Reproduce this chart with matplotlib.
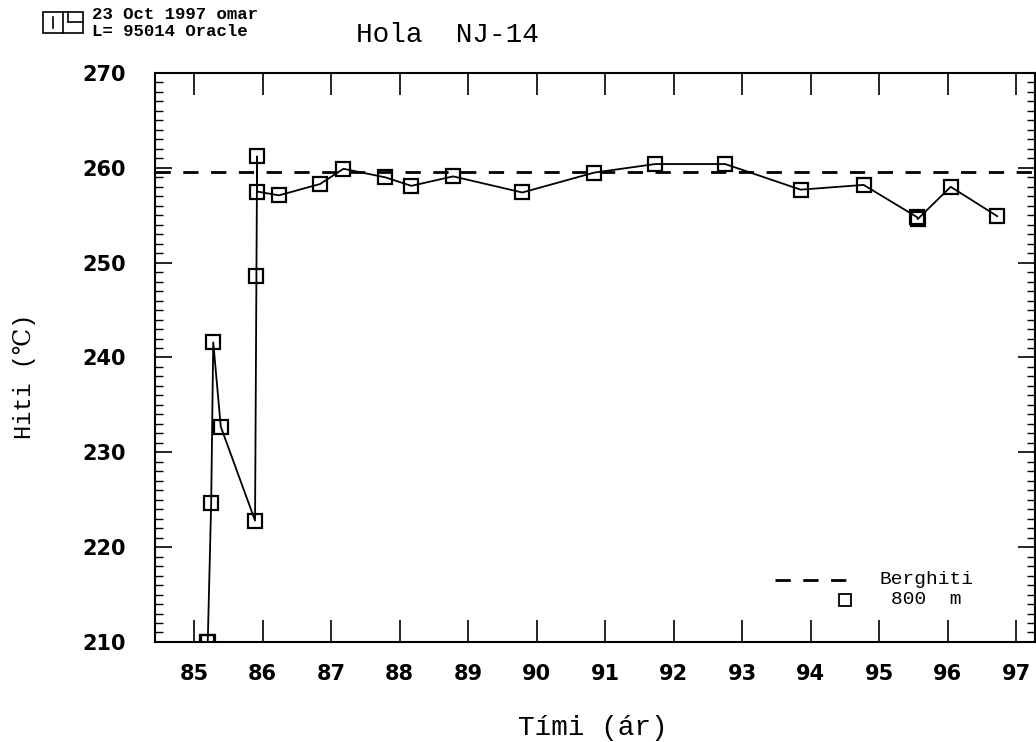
import matplotlib
matplotlib.use("Agg")
import matplotlib.pyplot as plt
from matplotlib.patches import Rectangle
from matplotlib.lines import Line2D

# data
years = [85.19, 85.20, 85.25, 85.28, 85.39, 85.89, 85.91, 85.92, 85.92,
         86.24, 86.84, 87.18, 87.79, 88.17, 88.78, 89.79, 90.84, 91.73,
         92.75, 93.85, 94.77, 95.55, 95.56, 96.04, 96.72]
temps = [210.0, 210.0, 224.7, 241.6, 232.7, 222.8, 248.6, 261.2, 257.5,
         257.1, 258.3, 259.9, 259.0, 258.1, 259.1, 257.4, 259.5, 260.4,
         260.4, 257.7, 258.2, 254.8, 254.6, 258.0, 254.9]
berghiti = 259.6

mono = ["Liberation Mono", "DejaVu Serif"]

fig = plt.figure(figsize=(10.36, 7.42), dpi=100)
ax = fig.add_axes([0.1496, 0.1348, 0.8494, 0.7668])

dash = (0, (5.5, 4.5))
ax.axhline(berghiti, color="black", lw=2, ls=dash)
ax.plot(years, temps, color="black", lw=1.3, marker="s", ms=10,
        mfc="none", mec="black", mew=1.6)

ax.set_xlim(84.43, 97.27)
ax.set_ylim(210, 270)
ax.set_xticks(range(85, 98))
ax.set_yticks(range(210, 271, 10))
ax.set_yticks(range(210, 271, 1), minor=True)

ax.tick_params(axis="both", which="major", direction="in", top=True,
               right=True, width=1.2, labelsize=15)
ax.tick_params(axis="x", which="major", length=16, pad=16)
ax.tick_params(axis="y", which="major", length=12, pad=21)
ax.tick_params(axis="y", which="minor", direction="in", left=True,
               right=True, length=6, width=1)
for lab in ax.get_xticklabels() + ax.get_yticklabels():
    lab.set_fontweight("bold")
for sp in ax.spines.values():
    sp.set_linewidth(1.5)

# axis titles placed like the original
fig.text(0.572, 0.0094, "Tími (ár)", family=mono, fontsize=20,
         ha="center", va="baseline")
fig.text(0.024, 0.493, "Hiti (\u2103)", family=mono, fontsize=17,
         ha="center", va="center", rotation=90)

# legend, drawn by hand like the original
ax.plot([0.705, 0.79], [0.109, 0.109], transform=ax.transAxes,
        color="black", lw=2, ls=dash)
ax.plot([0.784], [0.074], transform=ax.transAxes, marker="s", ms=9,
        mfc="none", mec="black", mew=1.3, ls="none")
ax.text(0.877, 0.109, "Berghiti", transform=ax.transAxes, family=mono,
        fontsize=14, ha="center", va="center")
ax.text(0.877, 0.074, "800  m", transform=ax.transAxes, family=mono,
        fontsize=14, ha="center", va="center")

fig.text(0.432, 0.953, "Hola  NJ-14", family=mono, fontsize=20,
         ha="center", va="center")

# logo box top left
fig.patches.append(Rectangle((0.0415, 0.9555), 0.0385, 0.0285,
                             transform=fig.transFigure, fill=False, lw=1.2))
fig.lines.append(Line2D([0.061, 0.061], [0.9555, 0.984],
                        transform=fig.transFigure, color="black", lw=1.2))
fig.lines.append(Line2D([0.051, 0.051], [0.962, 0.977],
                        transform=fig.transFigure, color="black", lw=1.2))
fig.lines.append(Line2D([0.066, 0.080], [0.970, 0.970],
                        transform=fig.transFigure, color="black", lw=1.2))
fig.lines.append(Line2D([0.066, 0.066], [0.970, 0.984],
                        transform=fig.transFigure, color="black", lw=1.2))
fig.text(0.089, 0.981, "23 Oct 1997 omar", family="Liberation Mono",
         fontweight="bold", fontsize=12.5, ha="left", va="center")
fig.text(0.089, 0.958, "L= 95014 Oracle", family="Liberation Mono",
         fontweight="bold", fontsize=12.5, ha="left", va="center")

fig.savefig("out.png", dpi=100)
